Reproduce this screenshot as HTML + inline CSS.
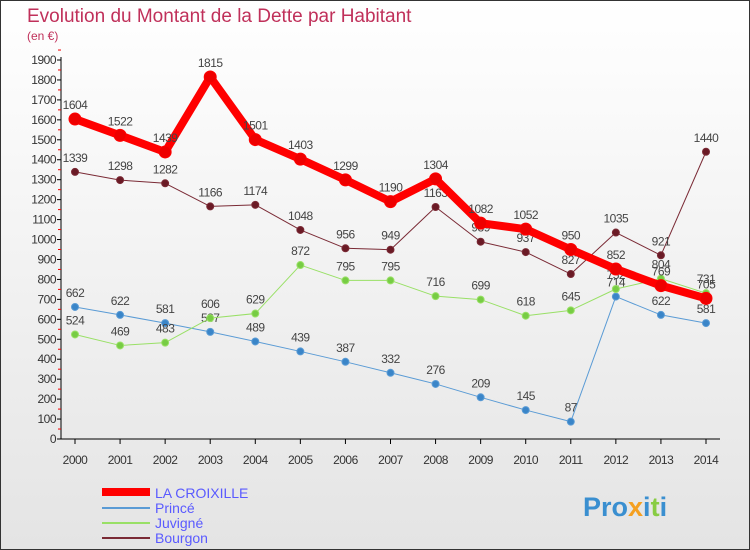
<!DOCTYPE html>
<html><head><meta charset="utf-8"><style>
body{margin:0;}
svg{display:block;font-family:"Liberation Sans",sans-serif;}
</style></head><body>
<svg id="c" width="750" height="550" xmlns="http://www.w3.org/2000/svg">
<defs><linearGradient id="bg" x1="0" y1="0" x2="0" y2="1"><stop offset="0" stop-color="#ffffff"/><stop offset="1" stop-color="#e4e4e4"/></linearGradient></defs>
<rect x="0.5" y="0.5" width="749" height="549" fill="url(#bg)" stroke="#333"/>
<text x="27" y="22" font-size="19" fill="#c0305a">Evolution du Montant de la Dette par Habitant</text>
<text x="27" y="40" font-size="12" fill="#c0305a">(en €)</text>
<g id="axes"></g><g id="series"></g>
<g>
<line x1="102" y1="492" x2="150" y2="492" stroke="#ff0000" stroke-width="8"/><text x="155" y="498" font-size="14" fill="#5a5aff">LA CROIXILLE</text>
<line x1="102" y1="508" x2="150" y2="508" stroke="#5a9bd5" stroke-width="2"/><text x="155" y="513" font-size="14" fill="#5a5aff">Princé</text>
<line x1="102" y1="523" x2="150" y2="523" stroke="#99e066" stroke-width="2"/><text x="155" y="528" font-size="14" fill="#5a5aff">Juvigné</text>
<line x1="102" y1="538" x2="150" y2="538" stroke="#7a2a35" stroke-width="2"/><text x="155" y="543" font-size="14" fill="#5a5aff">Bourgon</text>
</g>
<text x="583" y="516" font-size="27" font-weight="bold" fill="#3a8fd0">Pro<tspan fill="#f5a020">x</tspan>i<tspan fill="#88cc44">t</tspan>i</text>
</svg>
<script>
const years=[2000,2001,2002,2003,2004,2005,2006,2007,2008,2009,2010,2011,2012,2013,2014];
const yTicks=[0,100,200,300,400,500,600,700,800,900,1000,1100,1200,1300,1400,1500,1600,1700,1800,1900];
const croixille=[1604,1522,1439,1815,1501,1403,1299,1190,1304,1082,1052,950,852,769,705];
const prince=[662,622,581,537,489,439,387,332,276,209,145,87,714,622,581];
const juvigne=[524,469,483,606,629,872,795,795,716,699,618,645,752,804,731];
const bourgon=[1339,1298,1282,1166,1174,1048,956,949,1163,989,937,827,1035,921,1440];
const NS="http://www.w3.org/2000/svg";
const X=i=>75+i*(706-75)/14, Y=v=>439-v*379/1900;
function mk(t,a,p){const e=document.createElementNS(NS,t);for(const k in a)e.setAttribute(k,a[k]);p.appendChild(e);return e;}
const ax=document.getElementById('axes'), se=document.getElementById('series');
let l=mk('line',{x1:61,y1:57,x2:61,y2:439,stroke:'#000'},ax);


l=mk('line',{x1:61,y1:439,x2:720,y2:439,stroke:'#000'},ax);


yTicks.forEach(v=>{mk('line',{x1:57,y1:Y(v),x2:61,y2:Y(v),stroke:'#000'},ax);
 mk('line',{x1:58,y1:Y(v+50),x2:61,y2:Y(v+50),stroke:'#e00'},ax);
 const t=mk('text',{x:56,y:Y(v)+4,'font-size':12,'text-anchor':'end',fill:'#333','letter-spacing':'-0.5'},ax);t.textContent=v;
 
 });
years.forEach((y,i)=>{mk('line',{x1:X(i),y1:439,x2:X(i),y2:444,stroke:'#000'},ax);
 const t=mk('text',{x:X(i),y:464,'font-size':12,'text-anchor':'middle',fill:'#333','letter-spacing':'-0.5'},ax);t.textContent=y;
 
 });
function series(d,color,w,r,name,dot){
 const g=mk('g',{},se);
 
 
 mk('polyline',{points:d.map((v,i)=>X(i)+','+Y(v)).join(' '),fill:'none',stroke:color,'stroke-width':w,'stroke-linejoin':'round'},g);
 d.forEach((v,i)=>{const c=mk('circle',{cx:X(i),cy:Y(v),r:r,fill:dot,stroke:color,'stroke-width':1},g);
  
  
  const t=mk('text',{x:X(i),y:Y(v)-10,'font-size':12,'text-anchor':'middle',fill:'#444','letter-spacing':'-0.5'},g);t.textContent=v;
  
  });
}
series(bourgon,'#7a2a35',1,3.5,'bourgon','#6a1a25');
series(prince,'#5a9bd5',1,3.5,'prince','#3a85c8');
series(juvigne,'#99e066',1,3.5,'juvigne','#77cc44');
series(croixille,'#ff0000',8,6,'la-croixille','#ee0000');
</script>
</body></html>
